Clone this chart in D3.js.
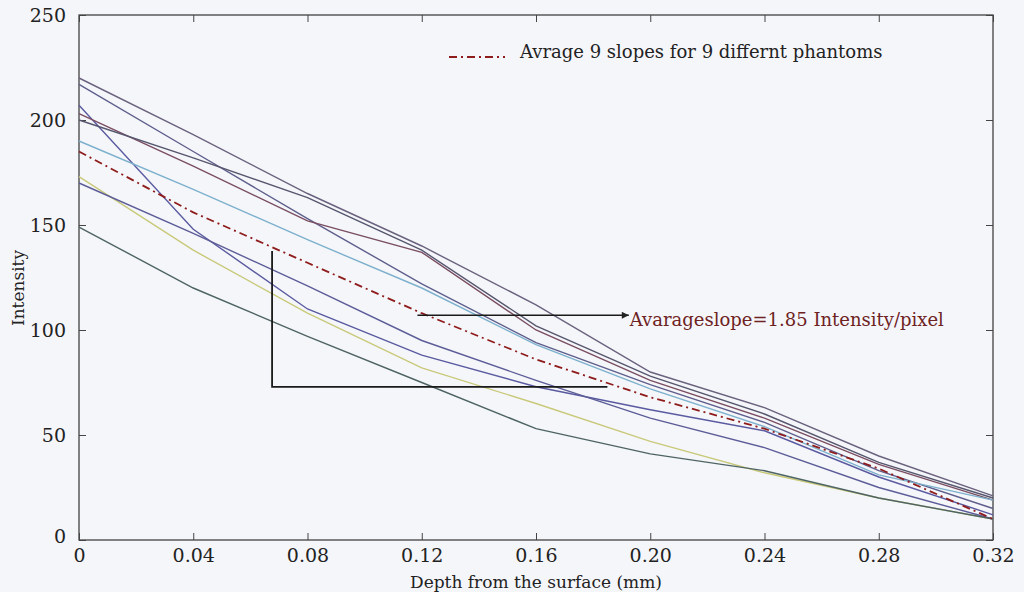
<!DOCTYPE html>
<html>
<head>
<meta charset="utf-8">
<script src="https://cdn.jsdelivr.net/npm/d3@7"></script>
<style>
  body { margin: 0; background: #f5f6fa; }
  svg { display: block; }
</style>
</head>
<body>
<div id="chart"></div>
<script>
// depth values (mm) where each phantom was sampled
var depth = [0, 0.04, 0.08, 0.12, 0.16, 0.20, 0.24, 0.28, 0.32];

// intensity of the 9 phantoms
var phantomA = [220, 193, 165, 140, 112, 80, 63, 40, 21];
var phantomB = [217, 185, 153, 122, 94, 74, 56, 33, 15];
var phantomC = [207, 148, 110, 88, 73, 62, 52, 30, 12];
var phantomD = [203, 178, 152, 137, 100, 76, 58, 36, 19];
var phantomE = [200, 182, 163, 138, 102, 78, 60, 37, 20];
var phantomF = [190, 167, 143, 120, 93, 72, 54, 31, 19];
var phantomG = [173, 138, 108, 82, 65, 47, 32, 20, 10];
var phantomH = [170, 146, 121, 95, 76, 58, 44, 25, 10];
var phantomI = [149, 120, 97, 75, 53, 41, 33, 20, 10];
var average = [185, 156, 132, 108, 86, 68, 53, 34, 10];

var phantoms = [phantomA, phantomB, phantomC, phantomD, phantomE, phantomF, phantomG, phantomH, phantomI];
var colors = ["#6a627e", "#5e5e8c", "#5a5aa0", "#7a4e62", "#56566e", "#7cb0cc", "#c9c97a", "#5c5c98", "#4e6464"];

var xTicks = [0, 0.04, 0.08, 0.12, 0.16, 0.20, 0.24, 0.28, 0.32];
var xTickLabels = ["0", "0.04", "0.08", "0.12", "0.16", "0.20", "0.24", "0.28", "0.32"];
var yTicks = [0, 50, 100, 150, 200, 250];

// slope triangle + arrow, in data units
var triangle = [[0.0676, 137.6], [0.0676, 72.9], [0.185, 72.9]];
var arrow = [[0.1185, 107], [0.1925, 107]];

var margin = {top: 15, right: 31, bottom: 52, left: 79},
    width = 1024 - margin.left - margin.right,
    height = 592 - margin.top - margin.bottom;

var svg = d3.select("#chart")
    .append("svg")
    .attr("width", 1024)
    .attr("height", 592)
    .style("font-family", "'DejaVu Serif', serif");

svg.append("defs").append("marker")
    .attr("id", "head")
    .attr("viewBox", "0 0 10 10")
    .attr("refX", 10).attr("refY", 5)
    .attr("markerWidth", 9).attr("markerHeight", 7)
    .attr("markerUnits", "userSpaceOnUse")
    .attr("orient", "auto")
    .append("path")
    .attr("d", "M0,0L10,5L0,10Z")
    .attr("fill", "#222");

var g = svg.append("g")
    .attr("transform", "translate(" + margin.left + "," + margin.top + ")");

var x = d3.scaleLinear().domain([0, 0.32]).range([0, width]);
var y = d3.scaleLinear().domain([0, 250]).range([height, 0]);

// box with inward ticks on all four sides
g.append("rect")
    .attr("width", width).attr("height", height)
    .attr("fill", "none").attr("stroke", "#333").attr("stroke-width", 1.2);

var xAxis = g.append("g")
    .attr("transform", "translate(0," + height + ")")
    .call(d3.axisBottom(x).tickValues(xTicks)
        .tickFormat(function (d, i) { return xTickLabels[i]; })
        .tickSizeInner(-7).tickSizeOuter(0).tickPadding(9));
var yAxis = g.append("g")
    .call(d3.axisLeft(y).tickValues(yTicks).tickSizeInner(-7).tickSizeOuter(0).tickPadding(13));
g.append("g")
    .call(d3.axisTop(x).tickValues(xTicks).tickFormat("").tickSizeInner(-7).tickSizeOuter(0));
g.append("g")
    .attr("transform", "translate(" + width + ",0)")
    .call(d3.axisRight(y).tickValues(yTicks).tickFormat("").tickSizeInner(-7).tickSizeOuter(0));

g.selectAll(".domain").remove();
g.selectAll(".tick line").attr("stroke", "#444");
g.selectAll(".tick text")
    .attr("fill", "#222")
    .style("font-size", "19px")
    .style("font-family", "'DejaVu Serif', serif");
// the two zeros sit apart like in the original
yAxis.selectAll(".tick text").filter(function (d) { return d === 0; }).attr("dy", "0.15em");

var line = d3.line()
    .x(function (d, i) { return x(depth[i]); })
    .y(function (d) { return y(d); });

g.selectAll(".phantom")
    .data(phantoms)
    .enter()
    .append("path")
    .attr("class", "phantom")
    .attr("d", line)
    .attr("fill", "none")
    .attr("stroke", function (d, i) { return colors[i]; })
    .attr("stroke-width", 1.4);

g.append("path")
    .datum(average)
    .attr("d", line)
    .attr("fill", "none")
    .attr("stroke", "#8e1c1c")
    .attr("stroke-width", 1.8)
    .attr("stroke-dasharray", "8,4,2,4");

// slope triangle
var pts = d3.line()
    .x(function (d) { return x(d[0]); })
    .y(function (d) { return y(d[1]); });

g.append("path")
    .attr("d", pts(triangle))
    .attr("fill", "none")
    .attr("stroke", "#1a1a1a")
    .attr("stroke-width", 1.8);

g.append("path")
    .attr("d", pts(arrow))
    .attr("fill", "none")
    .attr("stroke", "#1a1a1a")
    .attr("stroke-width", 1.6)
    .attr("marker-end", "url(#head)");

g.append("text")
    .attr("x", x(arrow[1][0]) + 1)
    .attr("y", y(arrow[1][1]) + 11)
    .attr("fill", "#6e2222")
    .style("font-size", "18px")
    .text("Avarageslope=1.85 Intensity/pixel");

// legend
g.append("line")
    .attr("x1", 370).attr("x2", 426)
    .attr("y1", 42).attr("y2", 42)
    .attr("stroke", "#8e1c1c")
    .attr("stroke-width", 1.8)
    .attr("stroke-dasharray", "8,4,2,4");
g.append("text")
    .attr("x", 441).attr("y", 43)
    .attr("fill", "#222")
    .style("font-size", "18px")
    .text("Avrage 9 slopes for 9 differnt phantoms");

// axis titles
svg.append("text")
    .attr("x", margin.left + width / 2)
    .attr("y", 588)
    .attr("text-anchor", "middle")
    .attr("fill", "#222")
    .style("font-size", "17px")
    .text("Depth from the surface (mm)");
svg.append("text")
    .attr("transform", "translate(24," + (margin.top + height * 0.52) + ") rotate(-90)")
    .attr("text-anchor", "middle")
    .attr("fill", "#222")
    .style("font-size", "17px")
    .text("Intensity");
</script>
</body>
</html>
